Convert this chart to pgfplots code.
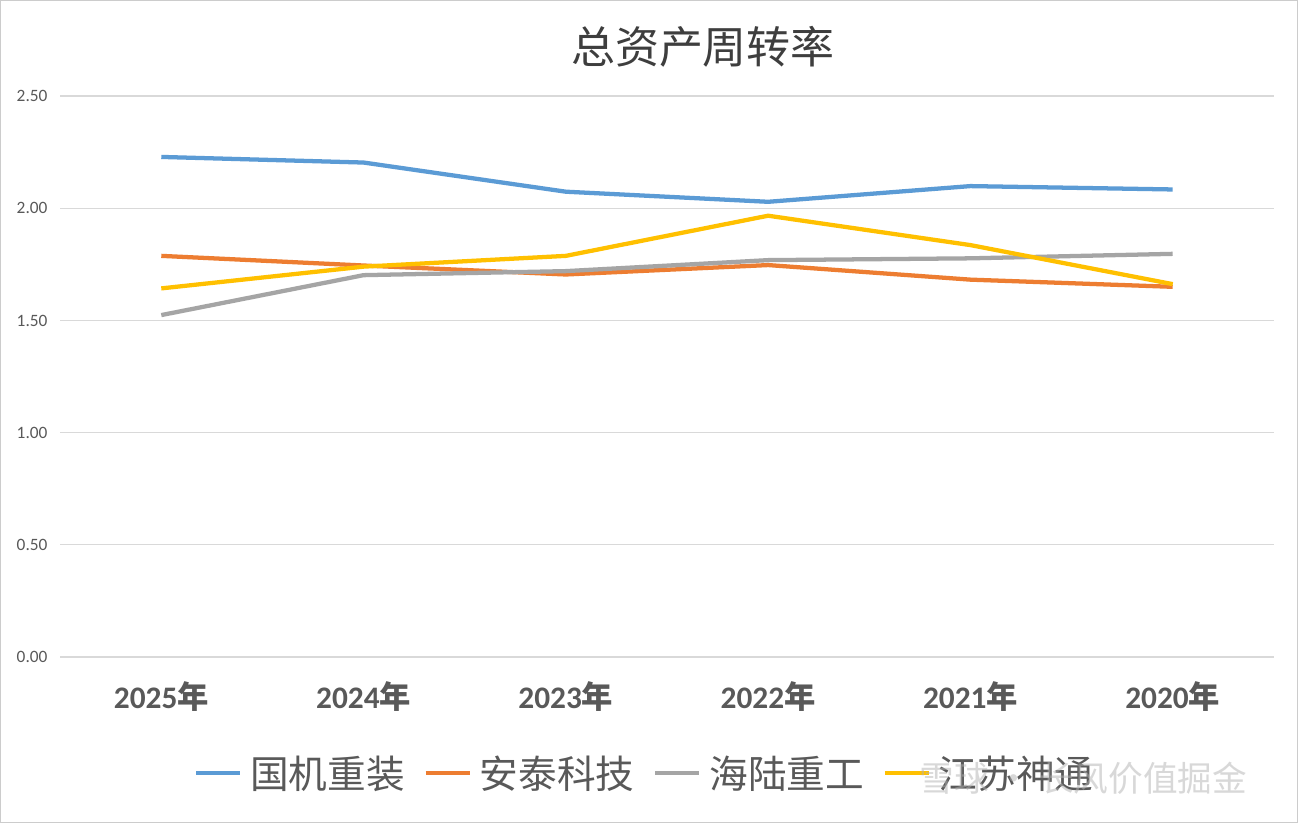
\documentclass[border=0pt]{standalone}
\usepackage{pgfplots}
\pgfplotsset{compat=1.18}
\usepackage{fontspec}
\setmainfont{Carlito}
\newfontfamily\cjk{Noto Sans CJK SC}
\definecolor{cblue}{HTML}{5B9BD5}
\definecolor{corange}{HTML}{ED7D31}
\definecolor{cgray}{HTML}{A5A5A5}
\definecolor{cyellow}{HTML}{FFC000}
\definecolor{gridc}{HTML}{D9D9D9}
\definecolor{txt}{HTML}{595959}
\begin{document}
\begin{tikzpicture}[x=0.75pt,y=0.75pt]
\fill[white] (0,0) rectangle (1298,823);
\draw[gray!40, line width=1pt] (0.5,0.5) rectangle (1297.5,822.5);
\begin{axis}[
  at={(60*0.75pt,166*0.75pt)}, anchor=south west,
  scale only axis, width=1214*0.75pt, height=561*0.75pt,
  xmin=-0.5, xmax=5.5, ymin=0, ymax=2.5,
  xtick={0,1,2,3,4,5},
  xticklabels={{\bfseries 2025{\cjk\bfseries 年}},{\bfseries 2024{\cjk\bfseries 年}},{\bfseries 2023{\cjk\bfseries 年}},{\bfseries 2022{\cjk\bfseries 年}},{\bfseries 2021{\cjk\bfseries 年}},{\bfseries 2020{\cjk\bfseries 年}}},
  x tick label style={font=\fontsize{23.5}{26}\selectfont, text=txt, yshift=-15pt},
  ytick={0,0.5,1,1.5,2,2.5},
  yticklabel style={font=\fontsize{13}{15}\selectfont, text=txt, /pgf/number format/.cd, fixed, fixed zerofill, precision=2, assume math mode=true},
  ymajorgrids, grid style={gridc, line width=1pt},
  axis line style={draw=none},
  major tick length=0pt,
  yticklabel shift=6pt,
  legend columns=4,
  legend style={at={(0.482,-0.207)}, anchor=center, draw=none, fill=none,
    font=\cjk\fontsize{29}{32}\selectfont, text=txt,
    /tikz/every odd column/.append style={column sep=4pt},
    /tikz/every even column/.append style={column sep=12pt}},
  legend image code/.code={\draw[#1, line width=3.2pt] (0pt,0pt) -- (33pt,0pt);},
  every axis plot/.append style={line width=3.2pt, line join=round, no markers},
]
\addplot[cblue] coordinates {(0,2.229) (1,2.204) (2,2.074) (3,2.029) (4,2.099) (5,2.084)};
\addlegendentry{国机重装}
\addplot[corange] coordinates {(0,1.788) (1,1.745) (2,1.705) (3,1.747) (4,1.682) (5,1.650)};
\addlegendentry{安泰科技}
\addplot[cgray] coordinates {(0,1.524) (1,1.702) (2,1.720) (3,1.769) (4,1.777) (5,1.797)};
\addlegendentry{海陆重工}
\addplot[cyellow] coordinates {(0,1.643) (1,1.740) (2,1.788) (3,1.967) (4,1.836) (5,1.662)};
\addlegendentry{江苏神通}
\end{axis}
\node[font=\cjk\fontsize{33}{36}\selectfont, text=txt!70!black] at (703,776) {总资产周转率};
\node[font=\cjk\fontsize{26}{30}\selectfont, text=gray!60, opacity=0.5, anchor=west] at (915,45) {雪球 · 长风价值掘金};
\end{tikzpicture}
\end{document}
